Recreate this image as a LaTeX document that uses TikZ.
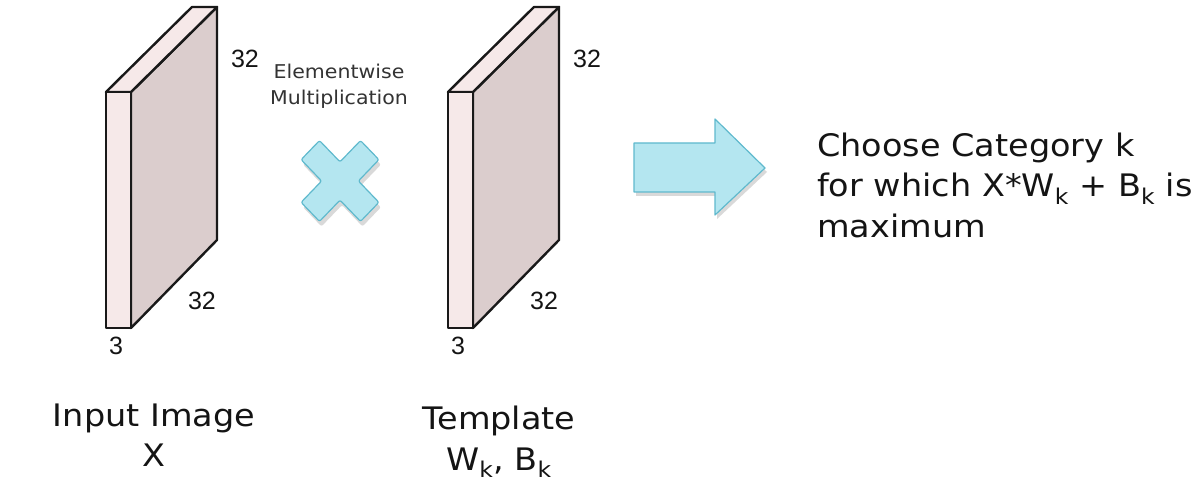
\documentclass[tikz,border=0pt]{standalone}
\usepackage{fontspec}
\setmainfont{DejaVu Sans}[FakeStretch=1.08]
\newfontfamily\arialf{Liberation Sans}
\definecolor{slabfront}{RGB}{246,233,233}
\definecolor{slabside}{RGB}{219,205,205}
\definecolor{cyanfill}{RGB}{180,230,240}
\definecolor{cyanline}{RGB}{95,185,205}
\definecolor{txt}{RGB}{20,20,20}
\tikzset{
  slabline/.style={draw=black!90, line width=2.4pt, line join=round},
  dimlbl/.style={font=\arialf\fontsize{25}{28}\selectfont, text=txt, inner sep=0pt},
  biglbl/.style={font=\fontsize{31}{40}\selectfont, text=txt, align=center, inner sep=0pt},
  smalllbl/.style={font=\fontsize{19}{26}\selectfont, text=black!80, align=center, inner sep=0pt},
  cyanshape/.style={fill=cyanfill, draw=cyanline, line width=1.2pt, line join=round},
  shadowshape/.style={fill=black, opacity=0.15},
}
\begin{document}
\begin{tikzpicture}[x=1pt,y=-1pt]
\useasboundingbox (0,0) rectangle (1204,494);
% slabs
\foreach \dx/\nm in {0/a,342/b}{
  \begin{scope}[xshift=\dx pt]
    \filldraw[slabline, fill=slabside] (131,92) -- (217,7) -- (217,240) -- (131,328) -- cycle;
    \filldraw[slabline, fill=slabfront] (106,92) -- (192,7) -- (217,7) -- (131,92) -- cycle;
    \filldraw[slabline, fill=slabfront] (106,92) rectangle (131,328);
  \end{scope}
}
\node[dimlbl] (a32t) at (245,59) {32};
\node[dimlbl] (a32b) at (202,301) {32};
\node[dimlbl] (a3) at (116,346) {3};
\node[dimlbl] (b32t) at (587,59) {32};
\node[dimlbl] (b32b) at (544,301) {32};
\node[dimlbl] (b3) at (458,346) {3};
% elementwise label
\node[smalllbl, anchor=base] (elt) at (339,79) {Elementwise};
\node[smalllbl, anchor=base] (mult) at (339,105) {Multiplication};
% cross
\def\crosspath{(13,13) -- (42,13) -- (42,-13) -- (13,-13) -- (13,-42) -- (-13,-42) -- (-13,-13) -- (-42,-13) -- (-42,13) -- (-13,13) -- (-13,42) -- (13,42) -- cycle}
\fill[shadowshape, shift={(342,186)}, yscale=1.04, rotate=45, rounded corners=2pt] \crosspath;
\draw[cyanshape, shift={(340,181)}, yscale=1.04, rotate=45, rounded corners=2pt] \crosspath;
\coordinate (crossc) at (340,181);
% arrow
\fill[shadowshape] (636,147) -- (717,147) -- (717,123) -- (767,172) -- (717,219) -- (717,196) -- (636,196) -- cycle;
\draw[cyanshape] (634,143) -- (715,143) -- (715,119) -- (765,168) -- (715,215) -- (715,192) -- (634,192) -- cycle;
\coordinate (arrowtip) at (765,168);
% text
\node[biglbl, anchor=base west] (ch1) at (817,157) {Choose Category k};
\node[biglbl, anchor=base west] (ch2) at (817,197) {for which X*W\textsubscript{k} + B\textsubscript{k} is};
\node[biglbl, anchor=base west] (ch3) at (817,238) {maximum};
\node[biglbl, anchor=base] (in1) at (154,426) {Input Image};
\node[biglbl, anchor=base] (in2) at (154,466) {X};
\node[biglbl, anchor=base] (tp1) at (499,429) {Template};
\node[biglbl, anchor=base] (tp2) at (499,470) {W\textsubscript{k}, B\textsubscript{k}};
\end{tikzpicture}
\end{document}
